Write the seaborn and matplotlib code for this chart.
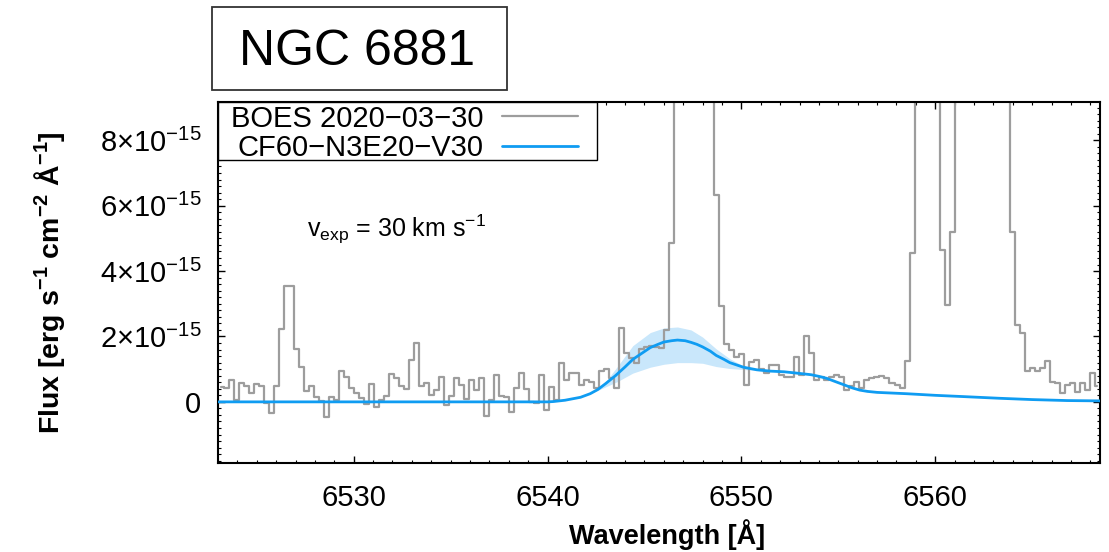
import numpy as np
import pandas as pd
import seaborn as sns
import matplotlib
matplotlib.use("Agg")
import matplotlib.pyplot as plt
from matplotlib.patches import Rectangle
from matplotlib.ticker import MultipleLocator, FixedLocator, FuncFormatter

# ---------------------------------------------------------------------------
# Data (fluxes in units of 1e-15 erg s^-1 cm^-2 A^-1)
# ---------------------------------------------------------------------------
object_name = "NGC 6881"
obs_label = "BOES 2020\u221203\u221230"
model_label = "CF60\u2212N3E20\u2212V30"

# observed BOES spectrum on its uniform pixel grid
WAVE_START = 6523.041   # left edge of the first pixel [A]
WAVE_STEP = 0.2582      # pixel width [A]
obs_flux = [
    0.45, 0.43, 0.67, 0.06, 0.59, 0.47, 0.27, 0.54, 0.50, -0.04,
    -0.33, 0.49, 2.22, 3.55, 3.55, 1.61, 1.06, 0.32, 0.49, 0.16,
    0.02, -0.45, 0.16, 0.06, 0.93, 0.77, 0.42, 0.27, 0.13, -0.07,
    0.55, -0.16, 0.06, 0.18, 0.86, 0.73, 0.49, 0.39, 1.28, 1.81,
    0.47, 0.59, 0.21, 0.37, 0.76, -0.09, 0.17, 0.73, 0.52, 0.08,
    0.67, 0.37, 0.73, -0.43, 0.06, 0.82, 0.18, 0.16, -0.30, 0.42,
    0.88, 0.40, 0.00, -0.02, 0.82, -0.24, 0.45, 0.05, 1.18, 0.67,
    0.88, 0.88, 0.52, 0.67, 0.62, 0.42, 0.94, 0.99, 0.73, 0.42,
    2.25, 1.49, 1.34, 1.18, 1.61, 1.69, 1.71, 1.69, 1.64, 2.20,
    4.85, 11.5, 24.0, 38.0, 44.0, 36.0, 25.0, 16.0, 11.0, 6.33,
    2.92, 1.78, 1.60, 1.37, 1.47, 0.52, 1.22, 1.27, 1.02, 0.87,
    1.12, 1.12, 0.81, 0.76, 0.76, 1.37, 0.81, 2.00, 1.49, 0.67,
    0.77, 0.67, 0.77, 0.82, 0.77, 0.36, 0.49, 0.62, 0.42, 0.67,
    0.72, 0.77, 0.79, 0.72, 0.57, 0.52, 0.42, 1.25, 4.55, 12.0,
    20.0, 22.0, 18.0, 11.0, 4.65, 2.97, 5.20, 12.0, 24.0, 40.0,
    55.0, 60.0, 52.0, 40.0, 28.0, 18.0, 12.0, 9.8, 5.20, 2.36,
    2.10, 0.93, 1.03, 0.93, 1.03, 1.24, 0.62, 0.57, 0.26, 0.52,
    0.57, 0.29, 0.57, 0.36, 0.88, 0.47,
]

# Raman-scattered He II model profile
model_wave = [6523.0, 6540.0, 6540.3, 6540.9, 6541.7, 6542.2, 6542.6, 6543.0,
              6543.5, 6544.0, 6544.4, 6544.9, 6545.3, 6545.7, 6546.0, 6546.4,
              6546.7, 6547.1, 6547.4, 6547.7, 6548.0, 6548.4, 6548.7, 6549.1,
              6549.4, 6549.8, 6550.1, 6550.8, 6551.5, 6552.2, 6553.0, 6553.6,
              6554.0, 6554.4, 6554.8, 6555.3, 6555.7, 6556.1, 6556.5, 6557.0,
              6558.5, 6560.0, 6561.5, 6563.3, 6565.0, 6566.8, 6568.5]
model_flux = [0.0, 0.0, 0.01, 0.05, 0.14, 0.25, 0.38, 0.56,
              0.80, 1.07, 1.30, 1.50, 1.66, 1.76, 1.83, 1.87,
              1.89, 1.87, 1.82, 1.76, 1.68, 1.55, 1.42, 1.30,
              1.20, 1.12, 1.06, 0.98, 0.94, 0.92, 0.87, 0.83,
              0.78, 0.72, 0.63, 0.52, 0.43, 0.36, 0.32, 0.29,
              0.25, 0.20, 0.16, 0.11, 0.07, 0.04, 0.03]

# model uncertainty envelope
band_wave = [6542.2, 6543.0, 6543.6, 6544.4, 6545.3, 6546.0, 6546.7,
             6547.4, 6548.0, 6548.7, 6549.4, 6550.1, 6550.8, 6551.5]
band_hi = [0.25, 0.62, 1.08, 1.72, 2.12, 2.26, 2.29,
           2.20, 1.98, 1.62, 1.32, 1.10, 1.00, 0.95]
band_lo = [0.25, 0.46, 0.62, 0.88, 1.06, 1.15, 1.20,
           1.20, 1.18, 1.08, 1.02, 0.99, 0.96, 0.93]

xticks = [6530, 6540, 6550, 6560]
yticks = [0, 2, 4, 6, 8]
vexp_text = r"v$_{\mathrm{exp}}$ = 30 km s$^{-1}$"

# ---------------------------------------------------------------------------
# Style
# ---------------------------------------------------------------------------
sns.set_theme(style="ticks")
plt.rcParams.update({
    "font.family": ["Liberation Sans", "DejaVu Sans"],
    "mathtext.fontset": "custom",
    "mathtext.rm": "Liberation Sans",
    "mathtext.it": "Liberation Sans:italic",
    "mathtext.bf": "Liberation Sans:bold",
    "axes.linewidth": 1.5,
    "axes.edgecolor": "black",
    "text.color": "black",
    "axes.labelcolor": "black",
    "xtick.color": "black",
    "ytick.color": "black",
})

GRAY = "#9d9d9d"
BLUE = "#0f9cf2"
BAND = "#c9e7fb"

fig = plt.figure(figsize=(11.09, 5.52), dpi=100)
ax = fig.add_axes([0.1966, 0.1612, 0.7953, 0.6540])

obs_df = pd.DataFrame({
    "wave": WAVE_START + WAVE_STEP * (np.arange(len(obs_flux)) + 0.5),
    "flux": obs_flux,
})
model_df = pd.DataFrame({"wave": model_wave, "flux": model_flux})

ax.fill_between(band_wave, band_lo, band_hi, color=BAND, lw=0, zorder=1)
sns.lineplot(data=obs_df, x="wave", y="flux", ax=ax, drawstyle="steps-mid",
             color=GRAY, lw=1.6, zorder=2, legend=False)
sns.lineplot(data=model_df, x="wave", y="flux", ax=ax, color=BLUE, lw=2.0,
             zorder=3, legend=False)

ax.set_xlim(6523.0, 6568.5)
ax.set_ylim(-1.87, 9.17)

# ticks: inward, mirrored on all sides
ax.xaxis.set_major_locator(FixedLocator(xticks))
ax.xaxis.set_minor_locator(MultipleLocator(1))
ax.yaxis.set_major_locator(FixedLocator(yticks))
ax.yaxis.set_minor_locator(MultipleLocator(0.2))
ax.tick_params(which="both", direction="in", top=True, right=True,
               labelsize=21)
ax.tick_params(which="major", length=5, width=1.0)
ax.tick_params(which="minor", length=2.5, width=0.8)
ax.tick_params(axis="x", which="major", pad=15)
ax.tick_params(axis="y", which="major", pad=12)


def sci_fmt(v, pos):
    if abs(v) < 1e-9:
        return "0"
    return r"$%d{\times}10^{-15}$" % int(round(v))


ax.yaxis.set_major_formatter(FuncFormatter(sci_fmt))

ax.set_xlabel("Wavelength [\u00c5]", fontsize=19.5, fontweight="bold")
ax.set_ylabel("Flux [erg s$^{\\mathbf{-1}}$ cm$^{\\mathbf{-2}}$ \u00c5$^{\\mathbf{-1}}$]",
              fontsize=20.5, fontweight="bold")
ax.xaxis.set_label_coords(0.509, -0.155)
ax.yaxis.set_label_coords(-0.171, 0.5)

ax.text(6527.6, 5.05, vexp_text, fontsize=18, ha="left", va="baseline")

# key box in the upper-left corner: label first, line sample after it
key_box = Rectangle((0.0, 0.8393), 0.4297, 0.1607, transform=ax.transAxes,
                    facecolor="white", edgecolor="black", lw=1.0, zorder=5)
ax.add_patch(key_box)
for label, color, lw, y_txt, y_line in [
    (obs_label, GRAY, 1.6, 0.9316, 0.961),
    (model_label, BLUE, 2.0, 0.8504, 0.878),
]:
    ax.text(0.3005, y_txt, label, transform=ax.transAxes, fontsize=21,
            ha="right", va="baseline", zorder=6)
    ax.plot([0.322, 0.408], [y_line, y_line], transform=ax.transAxes,
            color=color, lw=lw, zorder=6, clip_on=False)

# object name box above the panel
fig.add_artist(Rectangle((0.1912, 0.837), 0.2660, 0.1504, transform=fig.transFigure,
                         facecolor="white", edgecolor="#333333", lw=1.3))
fig.text(0.3219, 0.8822, object_name, fontsize=36, ha="center", va="baseline")

fig.savefig("out.png", dpi=100)
